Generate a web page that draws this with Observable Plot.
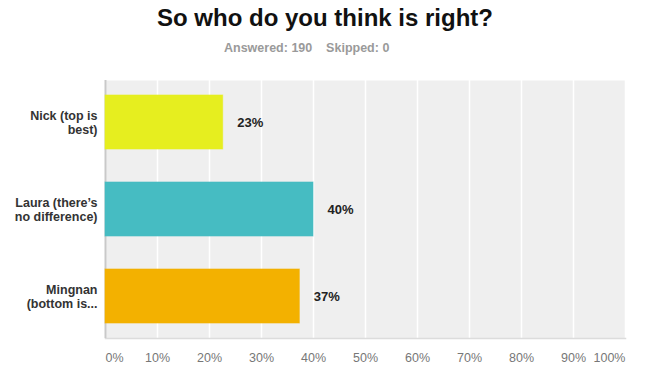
<!DOCTYPE html>
<html>
<head>
<meta charset="utf-8">
<script src="https://cdn.jsdelivr.net/npm/d3@7"></script>
<script src="https://cdn.jsdelivr.net/npm/@observablehq/plot@0.6"></script>
<style>
  html, body { margin: 0; padding: 0; background: #fff; }
  body { width: 650px; height: 372px; overflow: hidden; font-family: "Liberation Sans", Arial, Helvetica, sans-serif; }
  #title { height: 34px; line-height: 36px; text-align: center; font-size: 24px; font-weight: bold; color: #111; }
  #subtitle { height: 28px; line-height: 29px; font-size: 12.5px; font-weight: bold; color: #9a9a9a; padding-left: 224px; white-space: pre; }
</style>
</head>
<body>
<div id="title"></div>
<div id="subtitle"></div>
<div id="chart"></div>
<script>
const titleText = "So who do you think is right?";
const subtitleText = "Answered: 190    Skipped: 0";
const categories = ["Nick (top is\nbest)", "Laura (there’s\nno difference)", "Mingnan\n(bottom is..."];
const values = [22.63, 40.0, 37.37];
const valueLabels = ["23%", "40%", "37%"];
const xTicks = [0, 10, 20, 30, 40, 50, 60, 70, 80, 90, 100];
const barColors = ["#e6ee1f", "#46bcc2", "#f3b100"];

document.getElementById("title").textContent = titleText;
document.getElementById("subtitle").textContent = subtitleText;

const data = categories.map((c, i) => ({category: c, value: values[i], label: valueLabels[i]}));
const midTicks = xTicks.slice(1, -1);
const fmt = d => d + "%";

const chart = Plot.plot({
  width: 650,
  height: 310,
  marginTop: 18,
  marginBottom: 34,
  marginLeft: 105,
  marginRight: 25,
  style: {fontFamily: "'Liberation Sans', Arial, Helvetica, sans-serif", background: "#fff", overflow: "visible"},
  x: {domain: [0, 100]},
  y: {domain: categories, paddingInner: 0.38, paddingOuter: 0.17},
  color: {domain: categories, range: barColors},
  marks: [
    Plot.frame({fill: "#efefef", stroke: null}),
    Plot.gridX(xTicks, {stroke: "#ffffff", strokeOpacity: 1, strokeWidth: 1.5}),
    Plot.frame({anchor: "bottom", stroke: "#dcdcdc", strokeWidth: 1.5}),
    Plot.ruleX([0], {stroke: "#c9c9c9", strokeWidth: 2}),
    Plot.barX(data, {x: "value", y: "category", fill: "category", stroke: "category", strokeOpacity: 0.6}),
    Plot.text(data, {x: "value", y: "category", text: "label", dx: 14, textAnchor: "start", fontSize: 13, fontWeight: "bold", fill: "#222"}),
    Plot.axisY({tickSize: 0, tickPadding: 8, fontSize: 12.5, fontWeight: "bold", fill: "#333", lineHeight: 1.12, label: null}),
    Plot.axisX([0], {tickSize: 0, tickPadding: 15, fontSize: 12.5, fill: "#777", textAnchor: "start", tickFormat: fmt, label: null}),
    Plot.axisX(midTicks, {tickSize: 0, tickPadding: 15, fontSize: 12.5, fill: "#777", tickFormat: fmt, label: null}),
    Plot.axisX([100], {tickSize: 0, tickPadding: 15, fontSize: 12.5, fill: "#777", textAnchor: "end", tickFormat: fmt, label: null})
  ]
});
document.getElementById("chart").appendChild(chart);
</script>
</body>
</html>
